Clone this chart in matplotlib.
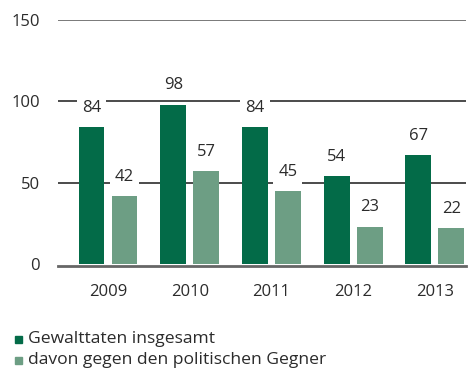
import matplotlib.pyplot as plt
from matplotlib.patches import Rectangle
import numpy as np

jahre = ['2009', '2010', '2011', '2012', '2013']
gewalttaten = [84, 98, 84, 54, 67]
gegen_gegner = [42, 57, 45, 23, 22]
legende = ['Gewalttaten insgesamt', 'davon gegen den politischen Gegner']

dunkelgruen = '#036b48'
hellgruen = '#6d9e84'
textfarbe = '#2b2b2b'

plt.rcParams['font.family'] = ['Open Sans', 'DejaVu Sans']

W, H = 473, 371
fig = plt.figure(figsize=(W / 100, H / 100), dpi=100)
ax = fig.add_axes([58 / W, 1 - 264 / H, (466 - 58) / W, (264 - 20) / H])

x = np.arange(len(jahre))
breite = 0.318
versatz = 0.202

# Gitterlinien hinter den Balken
for wert, farbe in [(50, '#1a1a1a'), (100, '#1a1a1a'), (150, '#555555')]:
    ax.axhline(wert, color=farbe, linewidth=1.1, zorder=0)
ax.axhline(-1.5, color='#666666', linewidth=2, zorder=0, clip_on=False)

b1 = ax.bar(x - versatz, gewalttaten, breite, color=dunkelgruen, zorder=2)
b2 = ax.bar(x + versatz, gegen_gegner, breite, color=hellgruen, zorder=2)

for balken in (b1, b2):
    for rect in balken:
        h = rect.get_height()
        ax.annotate(f'{h:.0f}', (rect.get_x() + rect.get_width() / 2, h),
                    xytext=(0, 8), textcoords='offset points',
                    ha='center', va='bottom', fontsize=12, color=textfarbe,
                    bbox=dict(boxstyle='square,pad=0.3', fc='white', ec='none'),
                    zorder=3)

ax.set_xlim(-0.612, 4.382)
ax.set_ylim(0, 150)
ax.set_yticks([0, 50, 100, 150])
ax.set_xticks(x)
ax.set_xticklabels(jahre)
ax.tick_params(axis='both', length=0, labelsize=12, colors=textfarbe)
ax.tick_params(axis='y', pad=13)
ax.tick_params(axis='x', pad=14.5)
for s in ax.spines.values():
    s.set_visible(False)

# Legende unten links: Quadrat plus Text
for i, (text, farbe) in enumerate(zip(legende, [dunkelgruen, hellgruen])):
    y_px = 339 + 21 * i
    fig.patches.append(Rectangle((15 / W, 1 - (y_px + 4) / H), 7 / W, 7 / H,
                                 transform=fig.transFigure, color=farbe))
    fig.text(28 / W, 1 - y_px / H, text, fontsize=12.6, color=textfarbe,
             ha='left', va='center')

fig.savefig('out.png', dpi=100)
